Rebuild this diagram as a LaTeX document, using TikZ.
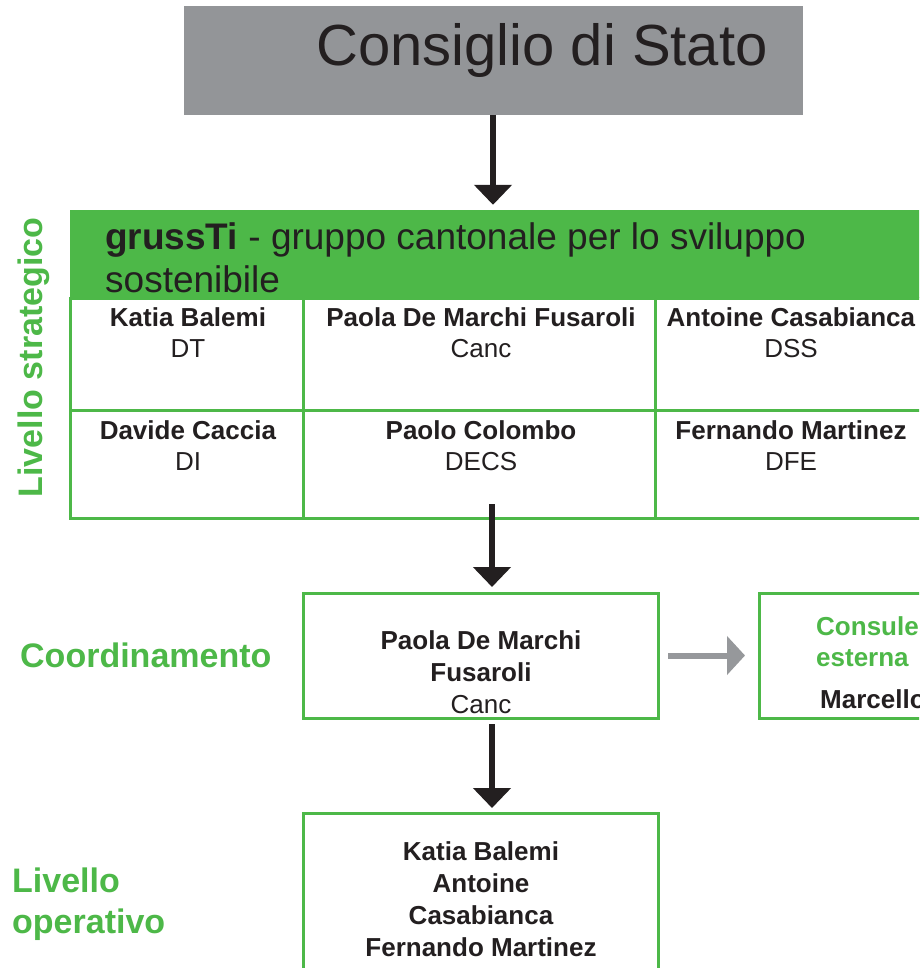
\documentclass[tikz,border=0pt]{standalone}
\usepackage{fontspec}
\setmainfont{Liberation Sans}
\usetikzlibrary{arrows.meta}
\definecolor{grn}{RGB}{77,184,72}
\definecolor{gry}{RGB}{147,149,152}
\definecolor{ink}{RGB}{35,31,32}
\definecolor{garrow}{RGB}{150,152,155}
\begin{document}
\begin{tikzpicture}[x=1pt,y=-1pt,
  box/.style={draw=grn,line width=3pt,fill=white,minimum width=355pt,minimum height=125pt,inner sep=0pt},
  gridline/.style={draw=grn,line width=3pt},
  cell/.style={font=\fontsize{26}{31}\selectfont,text=ink,align=center,inner sep=0pt},
  boxtext/.style={font=\fontsize{26}{32}\selectfont\bfseries,text=ink,align=center,inner sep=0pt},
  lvl/.style={font=\fontsize{34}{42}\selectfont\bfseries,text=grn,inner sep=0pt},
  blackarrow/.style={draw=ink,line width=6.5pt,-{Triangle[width=37pt,length=20pt]}},
  greyarrow/.style={draw=garrow,line width=6pt,-{Triangle[width=38pt,length=18pt]}}
]
\useasboundingbox (0,0) rectangle (919,968);
\clip (0,0) rectangle (919,968);
\fill[white] (0,0) rectangle (919,968);

% Consiglio di Stato
\node[fill=gry,minimum width=619pt,minimum height=109pt,inner sep=0pt] (cs) at (493.5,60.5) {};
\node[anchor=base,inner sep=0pt,text=ink,font=\fontsize{58}{64}\selectfont] (cstext) at (542,66) {Consiglio di Stato};

% grussTi band
\node[fill=grn,minimum width=880pt,minimum height=88pt,inner sep=0pt] (gruss) at (510,254) {};
\node[anchor=base west,inner sep=0pt,text=ink,font=\fontsize{37}{40}\selectfont] (g1) at (105,249) {\textbf{grussTi} - gruppo cantonale per lo sviluppo};
\node[anchor=base west,inner sep=0pt,text=ink,font=\fontsize{37}{40}\selectfont] (g2) at (105,292) {sostenibile};

% table
\draw[gridline] (70,298) rectangle (960,518);
\draw[gridline] (303,298) -- (303,518);
\draw[gridline] (655,298) -- (655,518);
\draw[gridline] (70,410) -- (960,410);

\node[cell] (t11) at (188,333) {\textbf{Katia Balemi}\\DT};
\node[cell] (t12) at (481,333) {\textbf{Paola De Marchi Fusaroli}\\Canc};
\node[cell] (t13) at (791,333) {\textbf{Antoine Casabianca}\\DSS};
\node[cell] (t21) at (188,445.5) {\textbf{Davide Caccia}\\DI};
\node[cell] (t22) at (481,445.5) {\textbf{Paolo Colombo}\\DECS};
\node[cell] (t23) at (791,445.5) {\textbf{Fernando Martinez}\\DFE};

% level labels
\node[lvl,rotate=90,anchor=base] (lstrat) at (42,357.5) {Livello strategico};
\node[lvl,anchor=base west] (lcoord) at (20,667) {Coordinamento};
\node[lvl,anchor=base west] (lop1) at (12,892) {Livello};
\node[lvl,anchor=base west] (lop2) at (12,933) {operativo};

% boxes
\node[box] (coord) at (480.5,655.5) {};
\node[boxtext] (coordtext) at (481,672) {Paola De Marchi\\Fusaroli\\\mdseries Canc};
\node[box] (cons) at (936.5,655.5) {};
\node[anchor=base west,inner sep=0pt,font=\fontsize{26}{32}\selectfont\bfseries,text=grn] (cons1) at (816,635) {Consulenza};
\node[anchor=base west,inner sep=0pt,font=\fontsize{26}{32}\selectfont\bfseries,text=grn] (cons2) at (816,666) {esterna};
\node[anchor=base west,inner sep=0pt,font=\fontsize{26}{32}\selectfont\bfseries,text=ink] (cons3) at (820,708) {Marcello};
\node[box,minimum height=190pt] (op) at (480.5,908) {};
\node[boxtext] (optext) at (481,899) {Katia Balemi\\Antoine\\Casabianca\\Fernando Martinez};

% arrows
\coordinate (a1s) at (493,115);
\draw[blackarrow] (a1s) -- ([yshift=5pt]a1s |- gruss.north);
\coordinate (a2s) at (492,504);
\draw[blackarrow] (a2s) -- ([yshift=4.5pt]a2s |- coord.north);
\coordinate (a3s) at (492,724);
\draw[blackarrow] (a3s) -- ([yshift=3.5pt]a3s |- op.north);
\draw[greyarrow] ([xshift=8.5pt]coord.east) -- ([xshift=-12.5pt]cons.west);
\end{tikzpicture}
\end{document}
